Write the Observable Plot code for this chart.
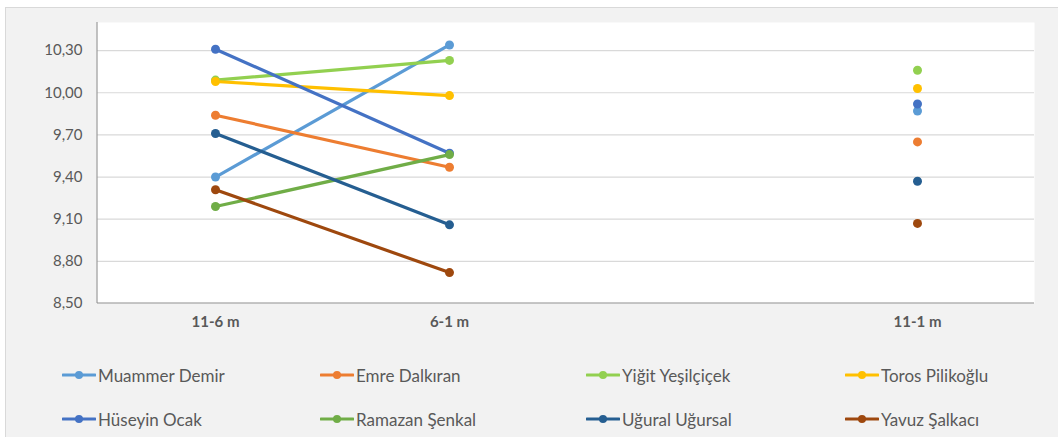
<!DOCTYPE html>
<html>
<head>
<meta charset="utf-8">
<script src="https://cdn.jsdelivr.net/npm/d3@7"></script>
<script src="https://cdn.jsdelivr.net/npm/@observablehq/plot@0.6"></script>
<style>
  html, body { margin: 0; padding: 0; background: #ffffff; width: 1058px; height: 437px; overflow: hidden; }
  #box { position: absolute; left: 5px; top: 7px; width: 1070px; height: 450px; background: #f2f2f2; border: 1px solid #d9d9d9; box-sizing: border-box; }
  #chart { position: absolute; left: 0; top: 0; }
  #legend { position: absolute; left: 0; top: 0; width: 1058px; height: 437px; pointer-events: none; }
  .item { position: absolute; display: flex; align-items: center; font-family: Lato, sans-serif; font-size: 17px; color: #595959; white-space: nowrap; }
  .item svg { margin-right: 2px; }
</style>
</head>
<body>
<div id="box"></div>
<div id="chart"></div>
<div id="legend"></div>
<script>
// ---- data ----
const categories = ["11-6 m", "6-1 m", "", "11-1 m"];
const series = ["Muammer Demir", "Emre Dalkıran", "Yiğit Yeşilçiçek", "Toros Pilikoğlu",
                "Hüseyin Ocak", "Ramazan Şenkal", "Uğural Uğursal", "Yavuz Şalkacı"];
const colors = ["#5B9BD5", "#ED7D31", "#92D050", "#FFC000",
                "#4472C4", "#70AD47", "#255E91", "#9E480E"];
const values116 = [9.40, 9.84, 10.09, 10.08, 10.31, 9.19, 9.71, 9.31];
const values61  = [10.34, 9.47, 10.23, 9.98, 9.57, 9.56, 9.06, 8.72];
const valuesGap = [null, null, null, null, null, null, null, null];
const values111 = [9.87, 9.65, 10.16, 10.03, 9.92, null, 9.37, 9.07];
const yTicks = [8.5, 8.8, 9.1, 9.4, 9.7, 10.0, 10.3];

// ---- long table ----
const columns = [values116, values61, valuesGap, values111];
const rows = [];
series.forEach((s, i) => {
  categories.forEach((c, j) => {
    rows.push({series: s, cat: c, value: columns[j][i]});
  });
});
const lineRows = rows.filter(d => d.cat !== "11-1 m");
const dotRows = rows.filter(d => d.value != null);

const fmt = d => d.toFixed(2).replace(".", ",");

const axisLines = (index, scales, values, dims) => {
  const g = d3.create("svg:g");
  const x0 = dims.marginLeft;
  const y1 = dims.height - dims.marginBottom;
  g.append("line").attr("x1", x0).attr("x2", x0).attr("y1", dims.marginTop).attr("y2", y1)
    .attr("stroke", "#8c8c8c").attr("stroke-width", 1);
  g.append("line").attr("x1", x0).attr("x2", dims.width - dims.marginRight).attr("y1", y1).attr("y2", y1)
    .attr("stroke", "#8c8c8c").attr("stroke-width", 1);
  return g.node();
};

const chart = Plot.plot({
  width: 1058,
  height: 340,
  marginLeft: 97,
  marginRight: 24,
  marginTop: 22,
  marginBottom: 37,
  style: {background: "transparent", fontFamily: "Lato, sans-serif", fontSize: "15px", color: "#595959", overflow: "visible"},
  x: {type: "point", domain: categories, padding: 0.5, label: null},
  y: {domain: [8.5, 10.5], label: null},
  color: {domain: series, range: colors},
  marks: [
    Plot.frame({fill: "white", stroke: "none"}),
    Plot.ruleY(yTicks.slice(1), {stroke: "#d9d9d9", strokeWidth: 1.2}),
    axisLines,
    Plot.axisY({ticks: yTicks, tickFormat: fmt, tickSize: 0, tickPadding: 15, fontSize: 15, fill: "#595959", label: null}),
    Plot.axisX({tickSize: 0, tickPadding: 13, fontSize: 15, fontWeight: "bold", fill: "#595959", label: null}),
    Plot.line(lineRows, {x: "cat", y: "value", z: "series", stroke: "series", strokeWidth: 3.2, strokeLinecap: "round"}),
    Plot.dot(dotRows, {x: "cat", y: "value", fill: "series", r: 4.5, stroke: "none"})
  ]
});
document.getElementById("chart").appendChild(chart);

// ---- legend ----
const legend = document.getElementById("legend");
const colLeft = [62, 320, 586, 845];
const rowTop = [375, 419];
series.forEach((s, i) => {
  const item = document.createElement("div");
  item.className = "item";
  item.style.left = colLeft[i % 4] + "px";
  item.style.top = (rowTop[Math.floor(i / 4)] - 11) + "px";
  item.style.height = "22px";
  const sw = d3.create("svg").attr("width", 34).attr("height", 12);
  sw.append("line").attr("x1", 1).attr("x2", 33).attr("y1", 6).attr("y2", 6)
    .attr("stroke", colors[i]).attr("stroke-width", 3).attr("stroke-linecap", "round");
  sw.append("circle").attr("cx", 17).attr("cy", 6).attr("r", 4).attr("fill", colors[i]);
  item.appendChild(sw.node());
  const t = document.createElement("span");
  t.textContent = s;
  item.appendChild(t);
  legend.appendChild(item);
});
</script>
</body>
</html>
